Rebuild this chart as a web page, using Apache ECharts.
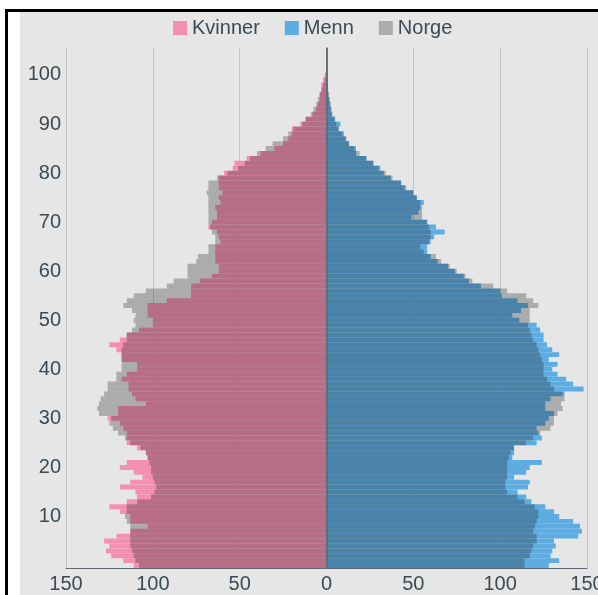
<!DOCTYPE html>
<html>
<head>
<meta charset="utf-8">
<script src="https://cdn.jsdelivr.net/npm/echarts@6/dist/echarts.min.js"></script>
<style>
html,body{margin:0;padding:0;background:#fff;width:598px;height:595px;overflow:hidden;}
#frame{position:absolute;left:5px;top:9px;width:593px;height:586px;border-left:3px solid #000;border-top:3px solid #000;background:#fff;}
#chart{position:absolute;left:20px;top:12px;width:578px;height:583px;}
</style>
</head>
<body>
<div id="frame"></div>
<div id="chart"></div>
<script>
// Ages 0..105 (category axis), labels every 10 years
const ageCount = 106;
const ageLabels = [10, 20, 30, 40, 50, 60, 70, 80, 90, 100];
const xTicks = [-150, -100, -50, 0, 50, 100, 150];

// Kvinner (women), ages 0..100
const kvinner = [111,117,124,127,125,128,121,113,103,113,
  113,119,125,115,109,110,119,113,106,111,
  119,115,103,104,109,115,115,115,117,119,
  126,120,120,104,110,112,114,114,118,115,
  109,109,118,118,121,125,119,115,108,100,
  100,103,103,103,92,78,78,78,73,66,
  62,62,64,64,64,64,61,62,63,68,
  66,63,63,64,61,62,60,62,62,62,
  59,54,53,46,38,30,25,22,20,20,
  15,12,8,6,5,4,4,3,3,2,1];

// Norge scaled, women side, ages 0..100
const norgeKvinner = [108,110,111,112,113,113,113,113,113,115,
  116,115,115,109,101,99,98,99,100,101,
  101,102,103,104,107,113,116,120,123,125,
  124,131,132,131,130,128,126,126,121,121,
  118,118,118,118,118,117,115,115,112,110,
  111,110,112,117,115,111,104,92,88,80,
  80,80,75,74,68,68,64,64,66,67,
  68,68,68,68,68,68,69,68,68,63,
  57,51,47,44,40,35,31,25,22,19,
  14,12,9,7.5,6,5,4,3,2,1,0.5];

// Menn (men), ages 0..100
const menn = [128,134,129,130,132,131,145,147,146,142,
  134,131,126,118,115,110,116,117,108,115,
  117,124,107,108,108,121,124,122,121,126,
  128,131,126,126,129,137,148,142,138,133,
  130,133,128,134,130,127,125,125,123,121,
  111,107,112,116,110,101,100,89,82,79,
  74,70,64,60,58,58,60,62,68,63,
  58,49,53,54,56,52,50,45,43,37,
  33,31,27,23,17,17,13,11,10,7,
  8,5,3,2.5,2,1.5,1,0.5,0.3,0,0];

// Norge scaled, men side, ages 0..100
const norgeMenn = [114,114,117,118,119,121,121,119,120,121,
  122,122,120,114,110,104,103,103,104,104,
  104,104,105,106,108,115,119,123,129,131,
  131,133,136,135,137,136,131,129,127,125,
  125,125,124,123,122,121,119,118,117,116,
  117,117,117,122,119,115,104,96,84,80,
  75,71,66,63,56,54,59,60,60,59,
  58,55,55,55,54,52,50,46,43,38,
  34,30,27,23,19,16,13,11.5,9,7,
  5.6,4.5,3.5,3,2.5,2,1.5,1,0.5,0.3,0];

const ages = [];
for (let i = 0; i < ageCount; i++) ages.push(String(i));

const textColor = '#3b4a54';
const axisDark = '#5c6b75';

const chart = echarts.init(document.getElementById('chart'), null, {renderer: 'canvas'});
chart.setOption({
  backgroundColor: '#e6e6e6',
  animation: false,
  textStyle: {fontFamily: 'Liberation Sans, Arial, sans-serif'},
  legend: {
    data: ['Kvinner', 'Menn', 'Norge'],
    left: 148, top: 1,
    icon: 'rect',
    itemWidth: 14, itemHeight: 14, itemGap: 25,
    textStyle: {fontSize: 20, color: textColor}
  },
  grid: {left: 46, right: 11, top: 36, bottom: 27, containLabel: false, outerBoundsMode: 'none'},
  xAxis: {
    type: 'value', min: xTicks[0], max: xTicks[xTicks.length - 1], interval: 50,
    axisLine: {show: true, lineStyle: {color: axisDark, width: 1}},
    axisTick: {show: false},
    axisLabel: {fontSize: 20, color: textColor, margin: 6, formatter: v => String(Math.abs(v))},
    splitLine: {show: true, lineStyle: {color: '#bcc7ce', width: 1}}
  },
  yAxis: {
    type: 'category', data: ages, boundaryGap: true,
    axisLine: {show: true, lineStyle: {color: axisDark, width: 1.5}},
    axisTick: {show: false},
    axisLabel: {
      fontSize: 20, color: textColor, margin: 5,
      interval: (idx, val) => ageLabels.indexOf(Number(val)) >= 0
    },
    splitLine: {show: false}
  },
  series: [
    {
      name: 'Kvinner', type: 'bar', data: kvinner.map(v => -v),
      barCategoryGap: '0%', barGap: '-100%',
      itemStyle: {color: '#f48fb1'},
      markLine: {
        silent: true, symbol: 'none', label: {show: false},
        lineStyle: {color: axisDark, type: 'solid', width: 1.5},
        data: [{xAxis: 0}]
      }
    },
    {
      name: 'Menn', type: 'bar', data: menn,
      barCategoryGap: '0%', barGap: '-100%',
      itemStyle: {color: '#5dade2'}
    },
    {
      name: 'Norge', type: 'bar', data: norgeKvinner.map(v => -v),
      barCategoryGap: '0%', barGap: '-100%',
      itemStyle: {color: 'rgba(20,20,20,0.28)'}
    },
    {
      name: 'Norge', type: 'bar', data: norgeMenn,
      barCategoryGap: '0%', barGap: '-100%',
      itemStyle: {color: 'rgba(20,20,20,0.28)'}
    }
  ]
});
</script>
</body>
</html>
